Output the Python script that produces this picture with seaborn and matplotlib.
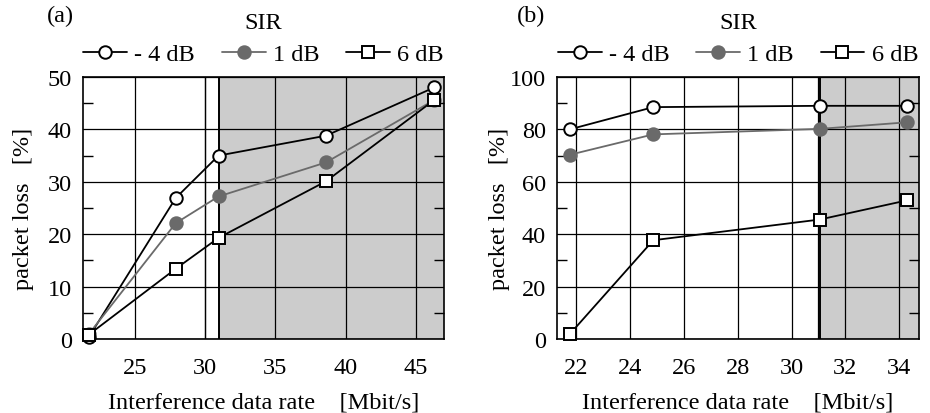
import matplotlib
matplotlib.use("Agg")
import matplotlib.pyplot as plt
from matplotlib.lines import Line2D
from matplotlib.ticker import MultipleLocator
import seaborn as sns
import pandas as pd

sns.set_theme(style="white")
plt.rcParams['font.family'] = ['Liberation Serif', 'DejaVu Serif']

series_labels = ["- 4 dB", "1 dB", "6 dB"]

# Panel (a)
xa = [21.7, 27.9, 30.95, 38.6, 46.3]
a_m4 = [0.3, 26.9, 35.0, 38.8, 48.0]
a_1 = [0.9, 22.1, 27.2, 33.7, 45.6]
a_6 = [0.8, 13.4, 19.3, 30.1, 45.6]

# Panel (b)
xb = [21.75, 24.86, 31.05, 34.29]
b_m4 = [80.0, 88.5, 89.0, 89.0]
b_1 = [70.3, 78.1, 80.2, 82.7]
b_6 = [1.8, 37.7, 45.6, 52.9]

gray = '#6a6a6a'
styles = [
    dict(color='black', marker='o', markerfacecolor='white', markeredgecolor='black'),
    dict(color=gray, marker='o', markerfacecolor=gray, markeredgecolor=gray),
    dict(color='black', marker='s', markerfacecolor='white', markeredgecolor='black'),
]

fig = plt.figure(figsize=(9.3, 4.14), dpi=100)
W, H = 930, 414
axa = fig.add_axes([83 / W, 1 - 340 / H, (444 - 83) / W, (340 - 78) / H])
axb = fig.add_axes([557 / W, 1 - 340 / H, (919 - 557) / W, (340 - 78) / H])

FS = 17.5
XLAB = "Interference data rate    [Mbit/s]"
YLAB = "packet loss   [%]"

def setup(ax, xlim, ylim, xticks, ymaj, ymin, shade_start):
    ax.set_xlim(*xlim)
    ax.set_ylim(*ylim)
    ax.axvspan(shade_start, xlim[1], color='#cccccc', zorder=0.1, lw=0)
    ax.axvline(shade_start, color='black', lw=1.4, zorder=0.6)
    ax.set_axisbelow(True)
    ax.set_xticks(xticks)
    ax.yaxis.set_major_locator(MultipleLocator(ymaj))
    ax.yaxis.set_minor_locator(MultipleLocator(ymin))
    ax.grid(True, which='major', color='black', lw=0.9)
    ax.tick_params(axis='x', which='both', length=0, labelsize=FS, pad=13, colors='black')
    ax.tick_params(axis='y', which='major', length=0, labelsize=FS, pad=8, colors='black')
    ax.tick_params(axis='y', which='minor', length=7, width=1, direction='in',
                   left=True, right=True, color='black')
    for s in ax.spines.values():
        s.set_color('black')
        s.set_linewidth(1.2)

setup(axa, (21.3, 47.0), (0, 50), [25, 30, 35, 40, 45], 10, 5, 30.95)
axa.axvline(30, color='black', lw=0.9, zorder=0.5)
setup(axb, (21.28, 34.74), (0, 100), [22, 24, 26, 28, 30, 32, 34], 20, 10, 31.05)
axb.axvline(31.0, color='black', lw=0.9, zorder=0.5)

for ax, x, ys, lp in [(axa, xa, [a_m4, a_1, a_6], 10), (axb, xb, [b_m4, b_1, b_6], 0)]:
    for y, st, lab in zip(ys, styles, series_labels):
        df = pd.DataFrame({'x': x, 'y': y})
        sns.lineplot(data=df, x='x', y='y', ax=ax, lw=1.3, markersize=9,
                     markeredgewidth=1.4, zorder=3, clip_on=False, **st)
    ax.set_xlabel(XLAB, fontsize=FS, color='black', labelpad=10)
    ax.set_ylabel(YLAB, fontsize=FS, color='black', labelpad=lp)

handles = [Line2D([0], [0], lw=1.3, markersize=9, markeredgewidth=1.4, **st) for st in styles]
for ax in (axa, axb):
    leg = ax.legend(handles, series_labels, ncol=3, title="SIR", frameon=False,
                    loc='lower center', bbox_to_anchor=(0.5, 1.027), fontsize=FS,
                    title_fontsize=FS, handlelength=1.8, handletextpad=0.3,
                    columnspacing=1.1, borderaxespad=0.1, labelspacing=0.2,
                    borderpad=0.1)
    leg._legend_box.sep = 7
    for t in leg.get_texts():
        t.set_color('black')
    leg.get_title().set_color('black')

fig.text(60 / W, 1 - 16 / H, "(a)", fontsize=FS, ha='center', va='center', color='black')
fig.text(531 / W, 1 - 16 / H, "(b)", fontsize=FS, ha='center', va='center', color='black')

fig.savefig("out.png", dpi=100)
